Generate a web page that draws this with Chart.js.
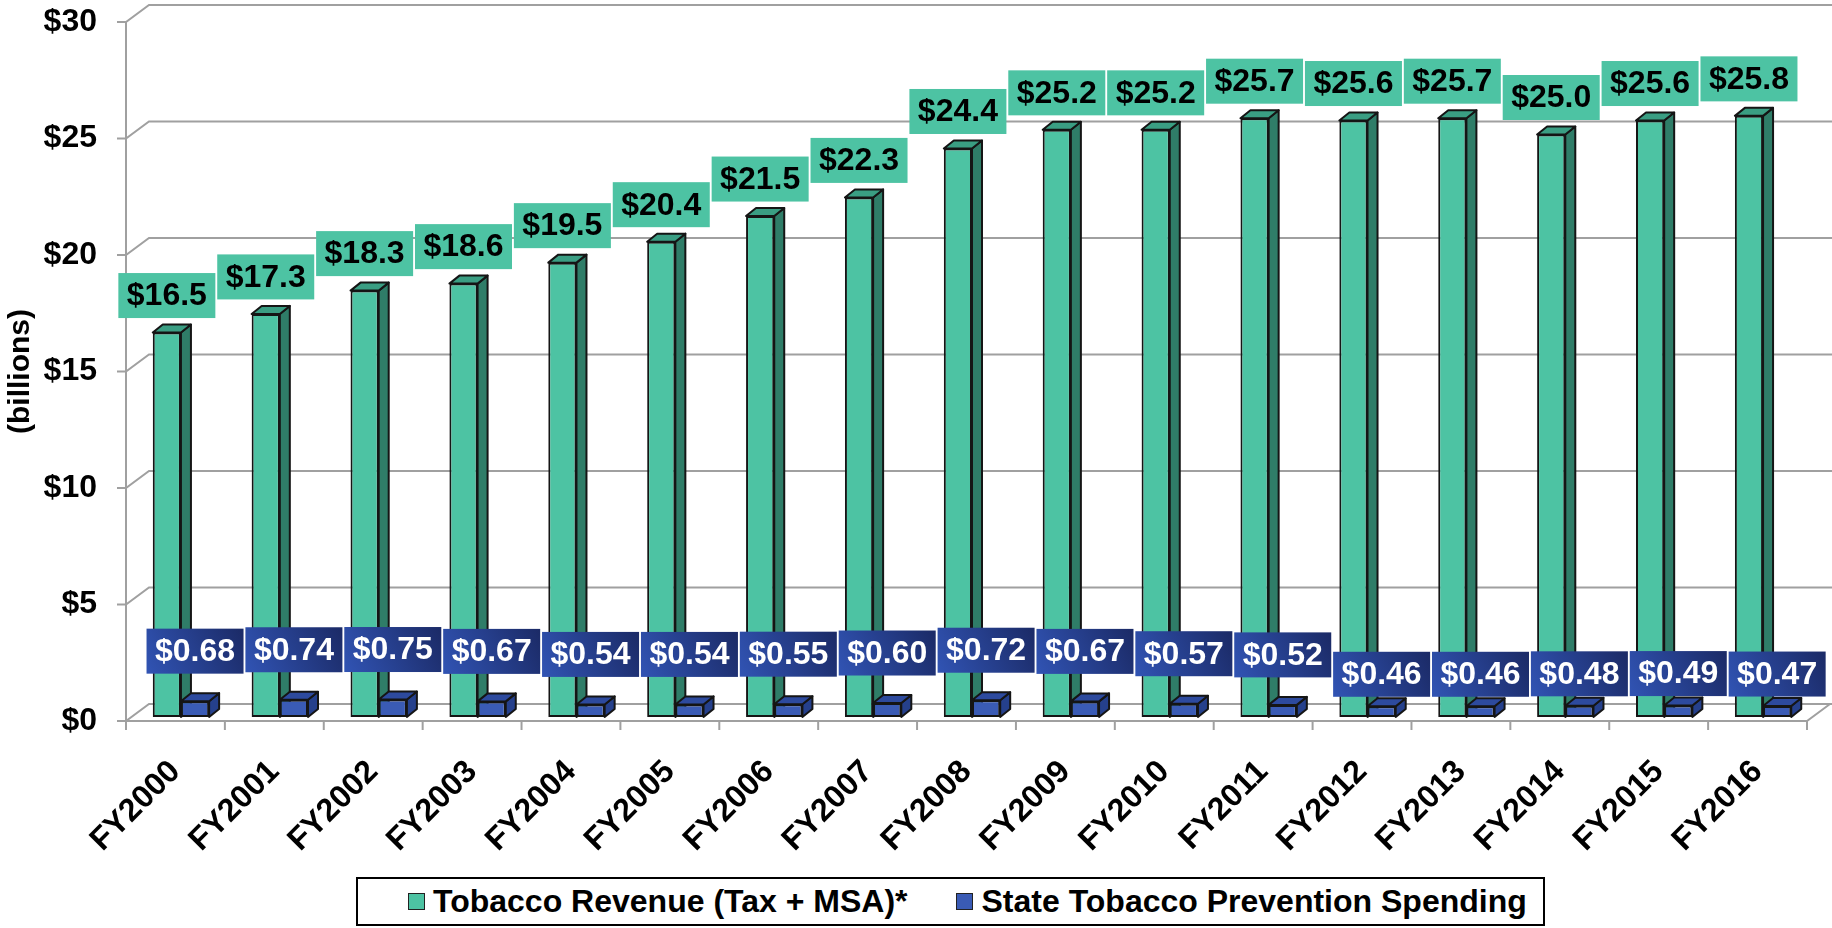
<!DOCTYPE html>
<html>
<head>
<meta charset="utf-8">
<title>Tobacco Revenue vs State Tobacco Prevention Spending</title>
<script src="https://cdn.jsdelivr.net/npm/chart.js@4.4.1/dist/chart.umd.min.js"></script>
<style>
  html, body { margin: 0; padding: 0; background: #fff; }
  #wrap { position: relative; width: 1832px; height: 928px; }
  #legend {
    position: absolute; left: 356px; top: 877px; width: 1189px; height: 49px;
    box-sizing: border-box; border: 2px solid #000; background: #fff;
    display: flex; align-items: center; padding-left: 50px;
    font: bold 32px "Liberation Sans", Arial, sans-serif; color: #000;
  }
  .item { display: flex; align-items: center; margin-right: 49px; white-space: nowrap; }
  .swatch { width: 15px; height: 15px; border: 1px solid #222; margin-right: 8px; }
</style>
</head>
<body>
<div id="wrap">
  <canvas id="chart"></canvas>
  <div id="legend"></div>
</div>
<script>
// chart data
const fiscalYears = ['FY2000', 'FY2001', 'FY2002', 'FY2003', 'FY2004', 'FY2005', 'FY2006', 'FY2007', 'FY2008',
                     'FY2009', 'FY2010', 'FY2011', 'FY2012', 'FY2013', 'FY2014', 'FY2015', 'FY2016'];
const tobaccoRevenue = [16.5, 17.3, 18.3, 18.6, 19.5, 20.4, 21.5, 22.3, 24.4, 25.2, 25.2, 25.7, 25.6, 25.7, 25.0, 25.6, 25.8];
const preventionSpending = [0.68, 0.74, 0.75, 0.67, 0.54, 0.54, 0.55, 0.60, 0.72, 0.67, 0.57, 0.52, 0.46, 0.46, 0.48, 0.49, 0.47];
const yAxisMin = 0;
const yAxisMax = 30;
const yAxisStep = 5;

const FONT = '"Liberation Sans", Arial, sans-serif';
const GREEN = '#4dc3a3', GREEN_SIDE = '#2f7d68', GREEN_TOP = '#3a9e83';
const BLUE = '#3a5bb5', BLUE_SIDE = '#25408c', BLUE_TOP = '#2d4a9e';

// fake 3D offsets: bar depth, back wall depth, bar shift into the floor
const D = { bx: 10, by: -8, wx: 23, wy: -17, sx: 5.5, sy: -4 };

Chart.defaults.font.family = FONT;
Chart.defaults.color = '#000';

const threeD = {
    id: 'threeD',
    beforeDatasetsDraw(chart) {
        const { ctx, chartArea: a, scales: { x, y } } = chart;
        ctx.save();

        // back wall grid lines
        ctx.strokeStyle = '#a0a0a0';
        ctx.lineWidth = 2;
        y.ticks.forEach(t => {
            const py = y.getPixelForValue(t.value);
            ctx.beginPath();
            ctx.moveTo(a.left - 9, py);
            ctx.lineTo(a.left, py);
            ctx.lineTo(a.left + D.wx, py + D.wy);
            ctx.lineTo(chart.width, py + D.wy);
            ctx.stroke();
        });

        // front axis and floor edge
        ctx.beginPath();
        ctx.moveTo(a.left, a.top);
        ctx.lineTo(a.left, a.bottom + 9);
        ctx.moveTo(a.left, a.bottom);
        ctx.lineTo(a.right, a.bottom);
        ctx.lineTo(a.right + D.wx, a.bottom + D.wy);
        ctx.stroke();

        // category tick marks
        const half = (x.getPixelForValue(1) - x.getPixelForValue(0)) / 2;
        for (let i = 0; i <= fiscalYears.length; i++) {
            const px = x.getPixelForValue(Math.min(i, fiscalYears.length - 1)) + (i < fiscalYears.length ? -half : half);
            ctx.beginPath();
            ctx.moveTo(px, a.bottom);
            ctx.lineTo(px, a.bottom + 9);
            ctx.stroke();
        }

        // side and top faces (drawn before the front faces)
        ctx.translate(D.sx, D.sy);
        ctx.strokeStyle = '#151515';
        ctx.lineJoin = 'round';
        const faces = [[GREEN_SIDE, GREEN_TOP], [BLUE_SIDE, BLUE_TOP]];
        chart.data.datasets.forEach((ds, di) => {
            chart.getDatasetMeta(di).data.forEach(bar => {
                const { x: cx, y: top, base, width } = bar.getProps(['x', 'y', 'base', 'width'], true);
                const l = cx - width / 2, r = cx + width / 2;
                ctx.beginPath();
                ctx.moveTo(r, top);
                ctx.lineTo(r + D.bx, top + D.by);
                ctx.lineTo(r + D.bx, base + D.by);
                ctx.lineTo(r, base);
                ctx.closePath();
                ctx.fillStyle = faces[di][0];
                ctx.fill();
                ctx.stroke();

                ctx.beginPath();
                ctx.moveTo(l, top);
                ctx.lineTo(l + D.bx, top + D.by);
                ctx.lineTo(r + D.bx, top + D.by);
                ctx.lineTo(r, top);
                ctx.closePath();
                ctx.fillStyle = faces[di][1];
                ctx.fill();
                ctx.stroke();
            });
        });
        // stays translated so the library draws the front faces in place
    },
    afterDatasetsDraw(chart) {
        const { ctx } = chart;
        const w = 97, h = 45;
        ctx.font = 'bold 32px ' + FONT;
        ctx.textAlign = 'center';
        ctx.textBaseline = 'middle';

        chart.getDatasetMeta(0).data.forEach((bar, i) => {
            const cy = bar.y - 37;
            ctx.fillStyle = GREEN;
            ctx.fillRect(bar.x - w / 2, cy - h / 2, w, h);
            ctx.fillStyle = '#000';
            ctx.fillText('$' + tobaccoRevenue[i].toFixed(1), bar.x, cy + 1);
        });

        chart.getDatasetMeta(1).data.forEach((bar, i) => {
            const cy = bar.y - (i < 12 ? 50 : 32);
            const g = ctx.createLinearGradient(bar.x - w / 2, cy + h / 2, bar.x + w / 2, cy - h / 2);
            g.addColorStop(0, '#3154b4');
            g.addColorStop(1, '#1b2a66');
            ctx.fillStyle = g;
            ctx.fillRect(bar.x - w / 2, cy - h / 2, w, h);
            ctx.fillStyle = '#fff';
            ctx.fillText('$' + preventionSpending[i].toFixed(2), bar.x, cy + 1);
        });

        ctx.restore();
    }
};

const chart = new Chart(document.getElementById('chart'), {
    type: 'bar',
    data: {
        labels: fiscalYears,
        datasets: [{
            label: 'Tobacco Revenue (Tax + MSA)*',
            data: tobaccoRevenue,
            backgroundColor: GREEN,
            borderColor: '#151515',
            borderWidth: 2,
            borderSkipped: false
        }, {
            label: 'State Tobacco Prevention Spending',
            data: preventionSpending,
            backgroundColor: BLUE,
            borderColor: '#151515',
            borderWidth: 2,
            borderSkipped: false
        }]
    },
    options: {
        responsive: true,
        maintainAspectRatio: false,
        animation: false,
        datasets: { bar: { categoryPercentage: 0.57, barPercentage: 1.0 } },
        layout: { padding: { top: 22, right: 25, left: 0, bottom: 0 } },
        plugins: { legend: { display: false }, tooltip: { enabled: false } },
        scales: {
            x: {
                grid: { display: false, drawTicks: false },
                border: { display: false },
                ticks: {
                    autoSkip: false,
                    maxRotation: 45,
                    minRotation: 45,
                    padding: 32,
                    font: { size: 32, weight: 'bold' }
                },
                afterFit: scale => { scale.height = 207; }
            },
            y: {
                min: yAxisMin,
                max: yAxisMax,
                grid: { display: false, drawTicks: false },
                border: { display: false },
                ticks: {
                    stepSize: yAxisStep,
                    padding: 29,
                    font: { size: 32, weight: 'bold' },
                    callback: value => '$' + value
                },
                title: {
                    display: true,
                    text: '(billions)',
                    padding: 3,
                    font: { size: 30, weight: 'bold' }
                },
                afterFit: scale => { scale.width = 126; scale.paddingTop = 0; scale.paddingBottom = 0; }
            }
        }
    },
    plugins: [threeD]
});

// legend as HTML, built from the datasets
const legend = document.getElementById('legend');
chart.data.datasets.forEach(ds => {
    const item = document.createElement('div');
    item.className = 'item';
    item.innerHTML = `<span class="swatch" style="background:${ds.backgroundColor}"></span><span>${ds.label}</span>`;
    legend.appendChild(item);
});
</script>
</body>
</html>
